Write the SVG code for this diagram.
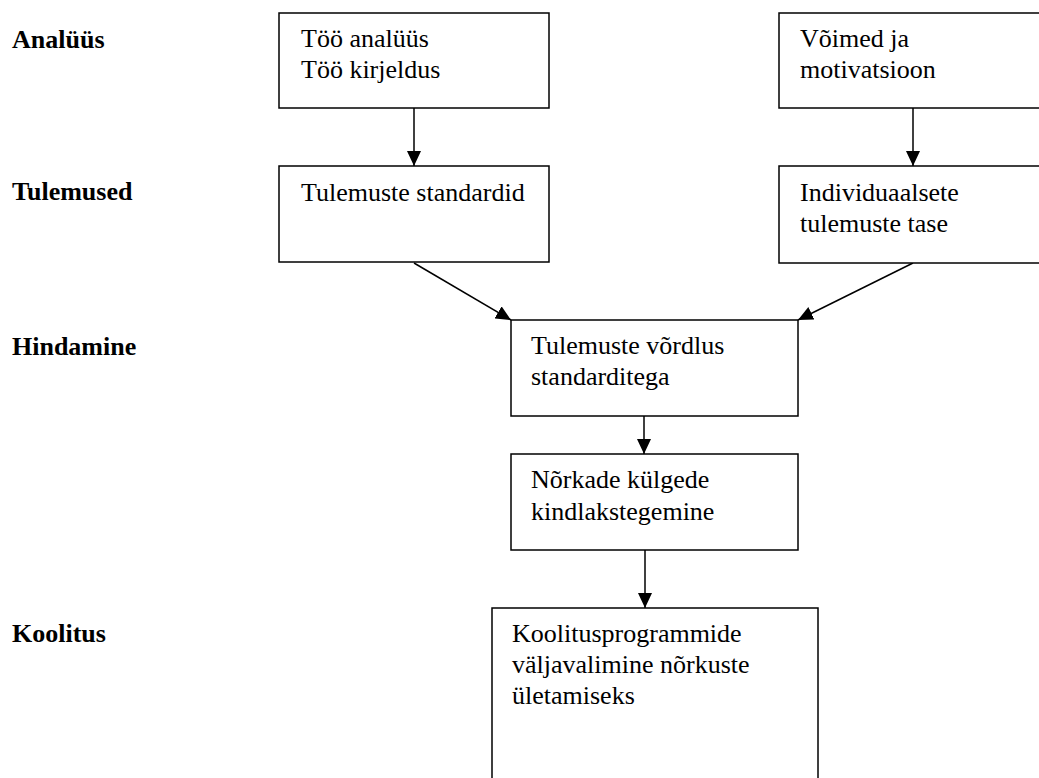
<svg xmlns="http://www.w3.org/2000/svg" width="1039" height="778" viewBox="0 0 1039 778">
<style>
.box{fill:#fff;stroke:#000;stroke-width:1.5}
.t{font-family:"Liberation Serif","Times New Roman",serif;font-size:26px;fill:#000}
.b{font-family:"Liberation Serif","Times New Roman",serif;font-size:26px;font-weight:bold;fill:#000}
.c{stroke:#000;stroke-width:1.5;fill:none;marker-end:url(#ah)}
</style>
<defs>
<marker id="ah" markerUnits="userSpaceOnUse" markerWidth="15" markerHeight="14" refX="15" refY="7" orient="auto">
<path d="M0,0 L15,7 L0,14 z" fill="#000"/>
</marker>
</defs>
<rect width="1039" height="778" fill="#fff"/>
<g id="labels">
<text class="b" x="12" y="48">Analüüs</text>
<text class="b" x="12" y="200">Tulemused</text>
<text class="b" x="12" y="355">Hindamine</text>
<text class="b" x="12" y="642">Koolitus</text>
</g>
<g id="connectors">
<line class="c" x1="414" y1="108" x2="414" y2="166"/>
<line class="c" x1="913" y1="108" x2="913" y2="166"/>
<line class="c" x1="414" y1="263" x2="511" y2="320"/>
<line class="c" x1="913" y1="263" x2="798" y2="320"/>
<line class="c" x1="644" y1="416" x2="644" y2="454"/>
<line class="c" x1="645" y1="550" x2="645" y2="608"/>
</g>
<g id="n1">
<rect class="box" x="279" y="13" width="270" height="95"/>
<text class="t" x="301" y="47">Töö analüüs</text>
<text class="t" x="301" y="78">Töö kirjeldus</text>
</g>
<g id="n2">
<rect class="box" x="779" y="13" width="269" height="95"/>
<text class="t" x="800" y="47">Võimed ja</text>
<text class="t" x="800" y="78">motivatsioon</text>
</g>
<g id="n3">
<rect class="box" x="279" y="166" width="270" height="96"/>
<text class="t" x="301" y="201">Tulemuste standardid</text>
</g>
<g id="n4">
<rect class="box" x="779" y="166" width="269" height="97"/>
<text class="t" x="800" y="201">Individuaalsete</text>
<text class="t" x="800" y="232">tulemuste tase</text>
</g>
<g id="n5">
<rect class="box" x="511" y="320" width="287" height="96"/>
<text class="t" x="531" y="354">Tulemuste võrdlus</text>
<text class="t" x="531" y="385">standarditega</text>
</g>
<g id="n6">
<rect class="box" x="511" y="454" width="287" height="96"/>
<text class="t" x="531" y="488">Nõrkade külgede</text>
<text class="t" x="531" y="520">kindlakstegemine</text>
</g>
<g id="n7">
<rect class="box" x="492" y="608" width="326" height="185"/>
<text class="t" x="512" y="642">Koolitusprogrammide</text>
<text class="t" x="512" y="673">väljavalimine nõrkuste</text>
<text class="t" x="512" y="704">ületamiseks</text>
</g>
</svg>
